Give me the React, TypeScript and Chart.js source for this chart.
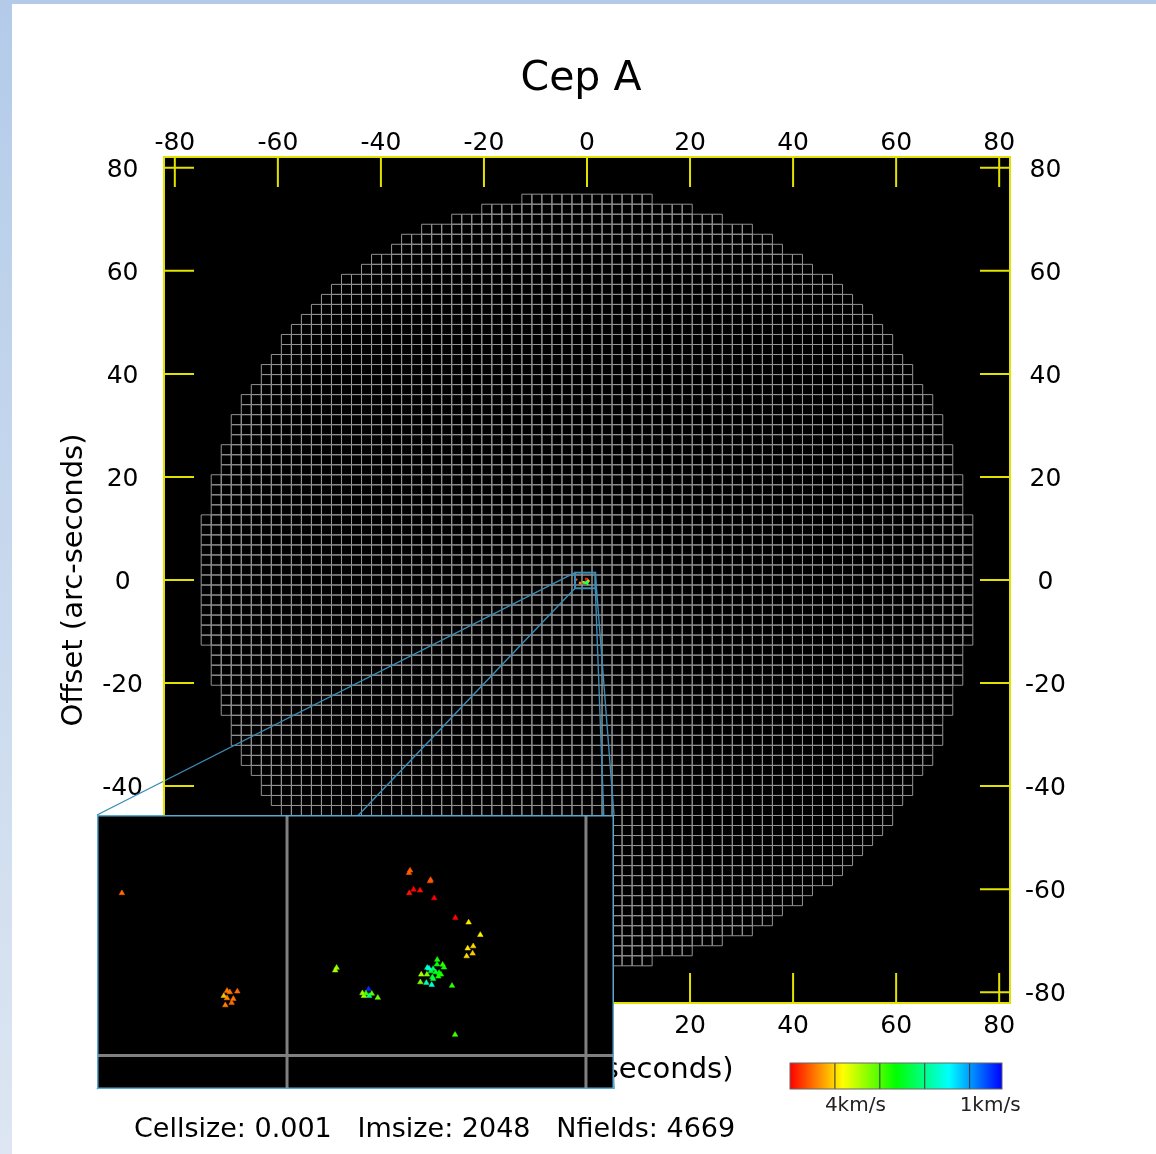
import { useEffect, useRef } from 'react';
import { Chart, registerables } from 'chart.js';

Chart.register(...registerables);

// ---- axes (arc-seconds) ----
const AXIS_LIMIT = 82.1;
const TICK_VALUES = [-80, -60, -40, -20, 0, 20, 40, 60, 80];

// ---- mosaic of pointings ----
const FIELD_SPACING = 1.945; // arcsec between neighbouring pointings
const MOSAIC_RADIUS = 75; // arcsec

// ---- maser spots (offsets in arcsec, LSR velocity in km/s) ----
const MASER_X = [
  -2.047, -1.363, -1.345, -1.296, -1.384, -1.363, -1.322, -1.333, -1.374,
  -0.172, -0.179, -0.038, -0.042, -0.149, -0.177, -0.107, -0.015, 0.123,
  0.209, 0.285, 0.239, 0.203, 0.235, 0.196, -0.65, -0.659, -0.442, -0.482,
  -0.472, -0.421, -0.438, -0.382, -0.459, 0.005, 0.003, 0.04, -0.06, -0.022,
  -0.036, -0.005, 0.017, 0.029, -0.099, -0.062, -0.027, 0.012, -0.022,
  -0.105, -0.066, -0.031, 0.101, 0.121, 0.049, -0.049,
];
const MASER_Y = [
  0.084, -0.552, -0.561, -0.556, -0.585, -0.6, -0.604, -0.63, -0.646, 0.231,
  0.215, 0.17, 0.161, 0.107, 0.084, 0.101, 0.051, -0.077, -0.107, -0.188,
  -0.262, -0.276, -0.309, -0.327, -0.402, -0.419, -0.542, -0.567, -0.585,
  -0.571, -0.585, -0.597, -0.569, -0.35, -0.38, -0.382, -0.402, -0.409,
  -0.424, -0.431, -0.435, -0.446, -0.446, -0.446, -0.463, -0.459, -0.474,
  -0.496, -0.5, -0.513, -0.519, -0.838, -0.4, -0.407,
];
const MASER_VLSR = [
  5.01, 4.95, 4.95, 5.01, 4.61, 4.87, 4.95, 5.01, 4.91, 5.07, 5.07, 5.07,
  5.11, 5.5, 5.4, 5.44, 5.5, 5.48, 4.42, 4.36, 4.52, 4.42, 4.56, 4.48, 3.83,
  3.93, 0.98, 3.83, 3.93, 3.53, 2.55, 3.63, 3.43, 3.24, 3.14, 3.34, 2.25,
  2.65, 3.04, 2.94, 3.14, 3.24, 3.93, 3.73, 3.04, 3.24, 2.84, 3.73, 2.35,
  2.16, 3.34, 3.43, 3.24, 2.06,
];

// ---- velocity colour bar ----
const V_RED = 5.5;
const V_BLUE = 0.78;
const COLORBAR_DIVIDERS = [4.5, 3.5, 2.5, 1.5];
const COLORBAR_LABELS = [4, 1];

// ---- zoom window ----
const ZOOM_BOX = { xMin: -2.33, xMax: 1.61, yMin: -1.61, yMax: 1.42 };
const INSET_RANGE = { xMin: -2.209, xMax: 1.155, yMin: -1.191, yMax: 0.592 };

const CAPTION_ITEMS = ['Cellsize: 0.001', 'Imsize: 2048', 'Nfields: 4669'];
const TITLE = 'Cep A';
const AXIS_TITLE = 'Offset (arc-seconds)';

// ---- page geometry ----
const PAGE_W = 1156;
const PAGE_H = 1154;
const INSET = { left: 97, top: 815, width: 517, height: 274 };
const FONT = "'DejaVu Sans', 'Liberation Sans', sans-serif";
const YELLOW = '#e2e200';
const LINK = '#3a8db6';
const TICK_LEN = 30;

const FIELD_CENTERS: [number, number][] = (() => {
  const out: [number, number][] = [];
  const n = Math.floor(MOSAIC_RADIUS / FIELD_SPACING);
  for (let j = -n; j <= n; j++) {
    for (let i = -n; i <= n; i++) {
      if (Math.hypot(i, j) * FIELD_SPACING <= MOSAIC_RADIUS) {
        out.push([i * FIELD_SPACING, j * FIELD_SPACING]);
      }
    }
  }
  return out;
})();

const velocityPos = (v: number) =>
  Math.min(1, Math.max(0, (V_RED - v) / (V_RED - V_BLUE)));
const velocityColor = (v: number) => `hsl(${240 * velocityPos(v)}, 100%, 50%)`;

const maserPoints = MASER_X.map((x, i) => ({ x, y: MASER_Y[i] }));
const maserColors = MASER_VLSR.map(velocityColor);

const mosaicPlugin = {
  id: 'mosaic',
  beforeDatasetsDraw(chart: any) {
    const { ctx, chartArea: a, scales } = chart;
    const sx = scales.x;
    const sy = scales.y;
    ctx.save();
    ctx.fillStyle = '#000';
    ctx.fillRect(a.left, a.top, a.right - a.left, a.bottom - a.top);
    ctx.strokeStyle = '#939393';
    ctx.lineWidth = 1;
    ctx.beginPath();
    const h = FIELD_SPACING / 2;
    for (const [cx, cy] of FIELD_CENTERS) {
      const x0 = sx.getPixelForValue(cx - h);
      const x1 = sx.getPixelForValue(cx + h);
      const y0 = sy.getPixelForValue(cy + h);
      const y1 = sy.getPixelForValue(cy - h);
      ctx.rect(x0, y0, x1 - x0, y1 - y0);
    }
    ctx.stroke();
    ctx.restore();
  },
  afterDatasetsDraw(chart: any) {
    const { ctx, scales } = chart;
    const sx = scales.x;
    const sy = scales.y;
    const bl = sx.getPixelForValue(ZOOM_BOX.xMin);
    const br = sx.getPixelForValue(ZOOM_BOX.xMax);
    const bt = sy.getPixelForValue(ZOOM_BOX.yMax);
    const bb = sy.getPixelForValue(ZOOM_BOX.yMin);
    const il = INSET.left;
    const ir = INSET.left + INSET.width;
    const it = INSET.top;
    const ib = INSET.top + INSET.height;
    ctx.save();
    ctx.strokeStyle = LINK;
    ctx.lineWidth = 1.4;
    ctx.beginPath();
    ctx.moveTo(bl, bt); ctx.lineTo(il, it);
    ctx.moveTo(bl, bb); ctx.lineTo(il, ib);
    ctx.moveTo(br, bt); ctx.lineTo(ir, it);
    ctx.moveTo(br, bb); ctx.lineTo(ir, ib);
    ctx.stroke();
    ctx.lineWidth = 2;
    ctx.strokeRect(bl, bt, br - bl, bb - bt);
    ctx.restore();
  },
  afterDraw(chart: any) {
    const { ctx, chartArea: a, scales } = chart;
    ctx.save();
    // frame and inward ticks
    ctx.strokeStyle = YELLOW;
    ctx.lineWidth = 2;
    ctx.strokeRect(a.left, a.top, a.right - a.left, a.bottom - a.top);
    ctx.beginPath();
    for (const v of TICK_VALUES) {
      const x = scales.x.getPixelForValue(v);
      ctx.moveTo(x, a.top); ctx.lineTo(x, a.top + TICK_LEN);
      ctx.moveTo(x, a.bottom); ctx.lineTo(x, a.bottom - TICK_LEN);
      const y = scales.y.getPixelForValue(v);
      ctx.moveTo(a.left, y); ctx.lineTo(a.left + TICK_LEN, y);
      ctx.moveTo(a.right, y); ctx.lineTo(a.right - TICK_LEN, y);
    }
    ctx.stroke();

    // velocity colour bar
    const bx0 = 790, bx1 = 1002, by0 = 1063, by1 = 1089;
    const grad = ctx.createLinearGradient(bx0, 0, bx1, 0);
    for (let k = 0; k <= 24; k++) {
      const t = k / 24;
      grad.addColorStop(t, `hsl(${240 * t}, 100%, 50%)`);
    }
    ctx.fillStyle = grad;
    ctx.fillRect(bx0, by0, bx1 - bx0, by1 - by0);
    ctx.strokeStyle = '#333';
    ctx.lineWidth = 1;
    ctx.beginPath();
    for (const v of COLORBAR_DIVIDERS) {
      const x = bx0 + velocityPos(v) * (bx1 - bx0);
      ctx.moveTo(x, by0); ctx.lineTo(x, by1);
    }
    ctx.stroke();
    ctx.strokeStyle = '#666';
    ctx.strokeRect(bx0, by0, bx1 - bx0, by1 - by0);
    ctx.fillStyle = '#222';
    ctx.font = `20px ${FONT}`;
    ctx.textAlign = 'center';
    ctx.textBaseline = 'middle';
    for (const v of COLORBAR_LABELS) {
      const x = bx0 + velocityPos(v) * (bx1 - bx0);
      ctx.fillText(`${v}km/s`, x - 2, 1106);
    }

    // caption
    ctx.fillStyle = '#000';
    ctx.font = `27px ${FONT}`;
    ctx.textAlign = 'left';
    ctx.fillText(CAPTION_ITEMS.join('   '), 134, 1130);
    ctx.restore();
  },
};

const insetPlugin = {
  id: 'insetFrame',
  beforeDatasetsDraw(chart: any) {
    const { ctx, chartArea: a, scales } = chart;
    const sx = scales.x;
    const sy = scales.y;
    ctx.save();
    ctx.fillStyle = '#000';
    ctx.fillRect(0, 0, chart.width, chart.height);
    ctx.strokeStyle = '#808080';
    ctx.lineWidth = 3;
    ctx.beginPath();
    const h = FIELD_SPACING / 2;
    const kMin = Math.ceil((INSET_RANGE.xMin - h) / FIELD_SPACING);
    const kMax = Math.floor((INSET_RANGE.xMax - h) / FIELD_SPACING);
    for (let k = kMin; k <= kMax; k++) {
      const x = sx.getPixelForValue(k * FIELD_SPACING + h);
      ctx.moveTo(x, a.top); ctx.lineTo(x, a.bottom);
    }
    const jMin = Math.ceil((INSET_RANGE.yMin - h) / FIELD_SPACING);
    const jMax = Math.floor((INSET_RANGE.yMax - h) / FIELD_SPACING);
    for (let j = jMin; j <= jMax; j++) {
      const y = sy.getPixelForValue(j * FIELD_SPACING + h);
      ctx.moveTo(a.left, y); ctx.lineTo(a.right, y);
    }
    ctx.stroke();
    ctx.restore();
  },
  afterDraw(chart: any) {
    const { ctx, width, height } = chart;
    ctx.save();
    ctx.strokeStyle = '#5aa8d0';
    ctx.lineWidth = 1.5;
    ctx.strokeRect(0.75, 0.75, width - 1.5, height - 1.5);
    ctx.restore();
  },
};

function axis(position: string, fit: (s: any) => void, extra: any = {}) {
  return {
    type: 'linear',
    position,
    min: -AXIS_LIMIT,
    max: AXIS_LIMIT,
    grid: { display: false, drawTicks: false },
    border: { display: false },
    afterBuildTicks: (s: any) => {
      s.ticks = TICK_VALUES.map((value) => ({ value }));
    },
    afterFit: fit,
    ...extra,
    ticks: {
      font: { family: FONT, size: 25 },
      color: '#000',
      maxRotation: 0,
      autoSkip: false,
      callback: (v: number) => String(v),
      ...(extra.ticks || {}),
    },
  };
}

export default function App() {
  const mainRef = useRef<HTMLCanvasElement>(null);
  const insetRef = useRef<HTMLCanvasElement>(null);

  useEffect(() => {
    const main = new Chart(mainRef.current as HTMLCanvasElement, {
      type: 'scatter',
      data: {
        datasets: [
          {
            data: maserPoints,
            pointStyle: 'circle',
            pointRadius: 1.1,
            pointBackgroundColor: maserColors,
            pointBorderWidth: 0,
          },
        ],
      },
      options: {
        responsive: false,
        animation: false,
        events: [],
        layout: { autoPadding: false, padding: { left: 6, right: 0, top: 0, bottom: 66.6 } },
        plugins: {
          legend: { display: false },
          tooltip: { enabled: false },
          title: {
            display: true,
            text: TITLE,
            color: '#000',
            font: { family: FONT, size: 41, weight: 'normal' },
            padding: { top: 54.4, bottom: 0 },
          },
        },
        scales: {
          x: axis('bottom', (s) => { s.height = 84.4; }, {
            title: {
              display: true,
              text: AXIS_TITLE,
              color: '#000',
              font: { family: FONT, size: 29 },
              padding: { top: 0, bottom: 0 },
            },
            ticks: { padding: 8 },
          }),
          x2: axis('top', (s) => { s.height = 53.4; }, { ticks: { padding: -1 } }),
          y: axis('left', (s) => { s.width = 158; }, {
            title: {
              display: true,
              text: AXIS_TITLE,
              color: '#000',
              font: { family: FONT, size: 29 },
              padding: { top: 51, bottom: 0 },
            },
            ticks: { padding: 21, crossAlign: 'center', labelOffset: 2.5 },
          }),
          y2: axis('right', (s) => { s.width = 146; }, {
            ticks: { padding: 15, crossAlign: 'center', labelOffset: 2.5 },
          }),
        },
      } as any,
      plugins: [mosaicPlugin],
    });

    const inset = new Chart(insetRef.current as HTMLCanvasElement, {
      type: 'scatter',
      data: {
        datasets: [
          {
            data: maserPoints,
            pointStyle: 'triangle',
            pointRadius: 3.2,
            pointBackgroundColor: maserColors,
            pointBorderColor: maserColors,
            pointBorderWidth: 0.5,
          },
        ],
      },
      options: {
        responsive: false,
        animation: false,
        events: [],
        layout: { autoPadding: false, padding: 0 },
        plugins: { legend: { display: false }, tooltip: { enabled: false } },
        scales: {
          x: { type: 'linear', display: false, min: INSET_RANGE.xMin, max: INSET_RANGE.xMax },
          y: { type: 'linear', display: false, min: INSET_RANGE.yMin, max: INSET_RANGE.yMax },
        },
      } as any,
      plugins: [insetPlugin],
    });

    return () => {
      main.destroy();
      inset.destroy();
    };
  }, []);

  return (
    <div
      style={{
        position: 'absolute',
        left: 0,
        top: 0,
        width: PAGE_W,
        height: PAGE_H,
        overflow: 'hidden',
        background: 'linear-gradient(#b3cbe9, #dde6f2)',
      }}
    >
      <div style={{ position: 'absolute', left: 12, top: 4, right: 0, bottom: 0, background: '#fff' }} />
      <canvas
        ref={mainRef}
        width={PAGE_W}
        height={PAGE_H}
        style={{ position: 'absolute', left: 0, top: 0, width: PAGE_W, height: PAGE_H }}
      />
      <canvas
        ref={insetRef}
        width={INSET.width}
        height={INSET.height}
        style={{
          position: 'absolute',
          left: INSET.left,
          top: INSET.top,
          width: INSET.width,
          height: INSET.height,
        }}
      />
    </div>
  );
}
